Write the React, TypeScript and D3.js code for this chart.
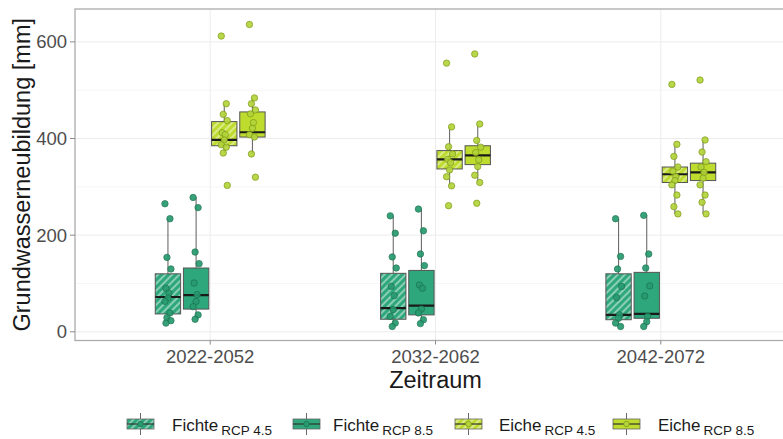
import * as d3 from "d3";
import React from "react";

// Zeiträume (x-Kategorien)
const periods = ["2022-2052", "2032-2062", "2042-2072"];

// Serien: Baumart + Szenario
const seriesKeys = ["fichte45", "fichte85", "eiche45", "eiche85"];
const seriesSpecies = ["Fichte", "Fichte", "Eiche", "Eiche"];
const seriesScenario = ["RCP 4.5", "RCP 8.5", "RCP 4.5", "RCP 8.5"];

// Boxplot-Kennwerte je Serie und Zeitraum [mm]
const fichte45Q1 = [37, 26, 25];
const fichte45Median = [72, 49, 35];
const fichte45Q3 = [120, 121, 120];
const fichte45Low = [18, 11, 11];
const fichte45High = [234, 240, 234];

const fichte85Q1 = [47, 35, 28];
const fichte85Median = [76, 54, 37];
const fichte85Q3 = [132, 127, 123];
const fichte85Low = [26, 17, 11];
const fichte85High = [278, 254, 241];

const eiche45Q1 = [385, 337, 309];
const eiche45Median = [397, 357, 326];
const eiche45Q3 = [435, 375, 341];
const eiche45Low = [370, 302, 244];
const eiche45High = [472, 424, 388];

const eiche85Q1 = [403, 346, 313];
const eiche85Median = [413, 365, 330];
const eiche85Q3 = [455, 385, 349];
const eiche85Low = [368, 309, 244];
const eiche85High = [484, 430, 397];

// Einzelwerte (Klimamodell-Läufe) je Serie und Zeitraum
const fichte45Points = [
  [265, 234, 154, 130, 90, 80, 70, 63, 39, 29, 23, 18],
  [240, 204, 155, 132, 94, 75, 46, 32, 18, 11],
  [234, 156, 130, 94, 71, 35, 28, 18, 11],
];
const fichte85Points = [
  [278, 257, 165, 141, 101, 77, 63, 52, 35, 26],
  [254, 209, 161, 137, 97, 90, 47, 39, 25, 17],
  [241, 161, 132, 95, 74, 32, 21, 11],
];
const eiche45Points = [
  [612, 472, 450, 437, 412, 408, 397, 387, 382, 370, 303],
  [556, 424, 383, 368, 357, 350, 335, 321, 302, 261],
  [512, 388, 363, 341, 332, 321, 313, 304, 283, 259, 244],
];
const eiche85Points = [
  [636, 484, 472, 459, 451, 433, 421, 408, 403, 368, 320],
  [575, 430, 396, 382, 371, 356, 342, 324, 309, 266],
  [521, 397, 372, 352, 341, 330, 318, 304, 283, 268, 244],
];

const yTicks = [0, 200, 400, 600];
const yMinorTicks = [100, 300, 500];

const boxStats = {
  fichte45: { q1: fichte45Q1, med: fichte45Median, q3: fichte45Q3, lo: fichte45Low, hi: fichte45High, pts: fichte45Points },
  fichte85: { q1: fichte85Q1, med: fichte85Median, q3: fichte85Q3, lo: fichte85Low, hi: fichte85High, pts: fichte85Points },
  eiche45: { q1: eiche45Q1, med: eiche45Median, q3: eiche45Q3, lo: eiche45Low, hi: eiche45High, pts: eiche45Points },
  eiche85: { q1: eiche85Q1, med: eiche85Median, q3: eiche85Q3, lo: eiche85Low, hi: eiche85High, pts: eiche85Points },
};

const FICHTE = "#2ea77c";
const EICHE = "#bedc2e";
const FICHTE_PT = "#279a6f";
const EICHE_PT = "#b3d43a";
const jitter = [-3, 2, -1, 3, -2, 1, 0, -3, 2, -1, 3, -2];

const width = 783;
const height = 439;
const panel = { left: 75, right: 796, top: 9, bottom: 340.5 };
const font = "'Liberation Sans', Arial, sans-serif";

const colorOf = (k: string) => (k.startsWith("fichte") ? FICHTE : EICHE);
const ptColorOf = (k: string) => (k.startsWith("fichte") ? FICHTE_PT : EICHE_PT);
const strokeOf = (k: string) => (k.startsWith("fichte") ? "#1d7452" : "#7f9a18");
const fillOf = (k: string) => (k.endsWith("45") ? `url(#hatch-${k})` : colorOf(k));

export default function App() {
  const x = d3.scalePoint<string>().domain(periods).range([panel.left, panel.right]).padding(0.6);
  const step = x.step();
  const dodge = d3
    .scaleBand<string>()
    .domain(seriesKeys)
    .range([-step * 0.25, step * 0.25])
    .paddingInner(0.1)
    .paddingOuter(0.05);
  const bw = dodge.bandwidth();
  const y = d3.scaleLinear().domain([-18, 668]).range([panel.bottom, panel.top]);

  const legendKeyX = [127, 293, 455, 613];
  const legendTextX = [172, 333, 499, 658];

  return (
    <svg
      width={width}
      height={height}
      viewBox={`0 0 ${width} ${height}`}
      style={{ position: "absolute", left: 0, top: 0, background: "#fff" }}
    >
      <defs>
        {seriesKeys
          .filter((k) => k.endsWith("45"))
          .map((k) => (
            <pattern
              key={k}
              id={`hatch-${k}`}
              patternUnits="userSpaceOnUse"
              width={5}
              height={5}
              patternTransform="rotate(45)"
            >
              <rect width={5} height={5} fill={colorOf(k)} />
              <line x1={1} y1={0} x2={1} y2={5} stroke="#fff" strokeWidth={1.6} opacity={0.55} />
            </pattern>
          ))}
        <clipPath id="panel-clip">
          <rect x={panel.left} y={panel.top} width={panel.right - panel.left} height={panel.bottom - panel.top} />
        </clipPath>
      </defs>

      {/* grid */}
      <g>
        {yMinorTicks.map((t) => (
          <line key={`mn${t}`} x1={panel.left} x2={panel.right} y1={y(t)} y2={y(t)} stroke="#f4f4f4" strokeWidth={0.8} />
        ))}
        {yTicks.map((t) => (
          <line key={`mj${t}`} x1={panel.left} x2={panel.right} y1={y(t)} y2={y(t)} stroke="#ececec" strokeWidth={1} />
        ))}
        {periods.map((p) => (
          <line key={p} x1={x(p)} x2={x(p)} y1={panel.top} y2={panel.bottom} stroke="#ececec" strokeWidth={1} />
        ))}
      </g>

      {/* boxes */}
      <g clipPath="url(#panel-clip)">
        {periods.map((p, pi) =>
          seriesKeys.map((k) => {
            const s = boxStats[k as keyof typeof boxStats];
            const cx = (x(p) ?? 0) + (dodge(k) ?? 0) + bw / 2;
            return (
              <g key={`${p}-${k}`}>
                <line x1={cx} x2={cx} y1={y(s.hi[pi])} y2={y(s.q3[pi])} stroke="#6b6b6b" strokeWidth={1.1} />
                <line x1={cx} x2={cx} y1={y(s.q1[pi])} y2={y(s.lo[pi])} stroke="#6b6b6b" strokeWidth={1.1} />
                <rect
                  x={cx - bw / 2}
                  y={y(s.q3[pi])}
                  width={bw}
                  height={y(s.q1[pi]) - y(s.q3[pi])}
                  fill={fillOf(k)}
                  stroke="#555"
                  strokeWidth={1}
                />
                <line
                  x1={cx - bw / 2}
                  x2={cx + bw / 2}
                  y1={y(s.med[pi])}
                  y2={y(s.med[pi])}
                  stroke="#1a1a1a"
                  strokeWidth={2.2}
                />
                {s.pts[pi].map((v, i) => (
                  <circle
                    key={i}
                    cx={cx + jitter[i % jitter.length]}
                    cy={y(v)}
                    r={3.2}
                    fill={ptColorOf(k)}
                    stroke={strokeOf(k)}
                    strokeWidth={0.8}
                    opacity={0.92}
                  />
                ))}
              </g>
            );
          })
        )}
      </g>

      {/* panel border */}
      <rect
        x={panel.left}
        y={panel.top}
        width={panel.right - panel.left}
        height={panel.bottom - panel.top}
        fill="none"
        stroke="#ababab"
        strokeWidth={1.3}
      />

      {/* y axis */}
      <g fontFamily={font} fontSize={18.5} fill="#4d4d4d">
        {yTicks.map((t) => (
          <g key={t}>
            <line x1={panel.left - 5} x2={panel.left} y1={y(t)} y2={y(t)} stroke="#8a8a8a" strokeWidth={1} />
            <text x={panel.left - 8} y={y(t)} dy="0.35em" textAnchor="end">
              {t}
            </text>
          </g>
        ))}
      </g>

      {/* x axis */}
      <g fontFamily={font} fontSize={18.5} fill="#4d4d4d">
        {periods.map((p) => (
          <g key={p}>
            <line x1={x(p)} x2={x(p)} y1={panel.bottom} y2={panel.bottom + 4} stroke="#8a8a8a" strokeWidth={1} />
            <text x={x(p)} y={363} textAnchor="middle">
              {p}
            </text>
          </g>
        ))}
      </g>

      {/* axis titles */}
      <text x={x("2032-2062")} y={388} textAnchor="middle" fontFamily={font} fontSize={23.5} fill="#1a1a1a">
        Zeitraum
      </text>
      <text
        transform={`translate(30,${(panel.top + panel.bottom) / 2}) rotate(-90)`}
        textAnchor="middle"
        fontFamily={font}
        fontSize={23.5}
        fill="#1a1a1a"
      >
        Grundwasserneubildung [mm]
      </text>

      {/* legend */}
      <g fontFamily={font} fill="#1a1a1a">
        {seriesKeys.map((k, i) => {
          const kx = legendKeyX[i];
          const kw = 27;
          return (
            <g key={k}>
              <line x1={kx + kw / 2} x2={kx + kw / 2} y1={413} y2={435} stroke="#6b6b6b" strokeWidth={1} />
              <rect x={kx} y={419} width={kw} height={10} fill={fillOf(k)} stroke="#666" strokeWidth={0.8} />
              <line x1={kx} x2={kx + kw} y1={424} y2={424} stroke="#333" strokeWidth={1.2} />
              <circle cx={kx + kw / 2} cy={424} r={2.8} fill={ptColorOf(k)} stroke={strokeOf(k)} strokeWidth={0.8} />
              <text x={legendTextX[i]} y={431} fontSize={17}>
                {seriesSpecies[i]}
                <tspan dx={3} dy={3.5} fontSize={13.5}>
                  {seriesScenario[i]}
                </tspan>
              </text>
            </g>
          );
        })}
      </g>
    </svg>
  );
}
